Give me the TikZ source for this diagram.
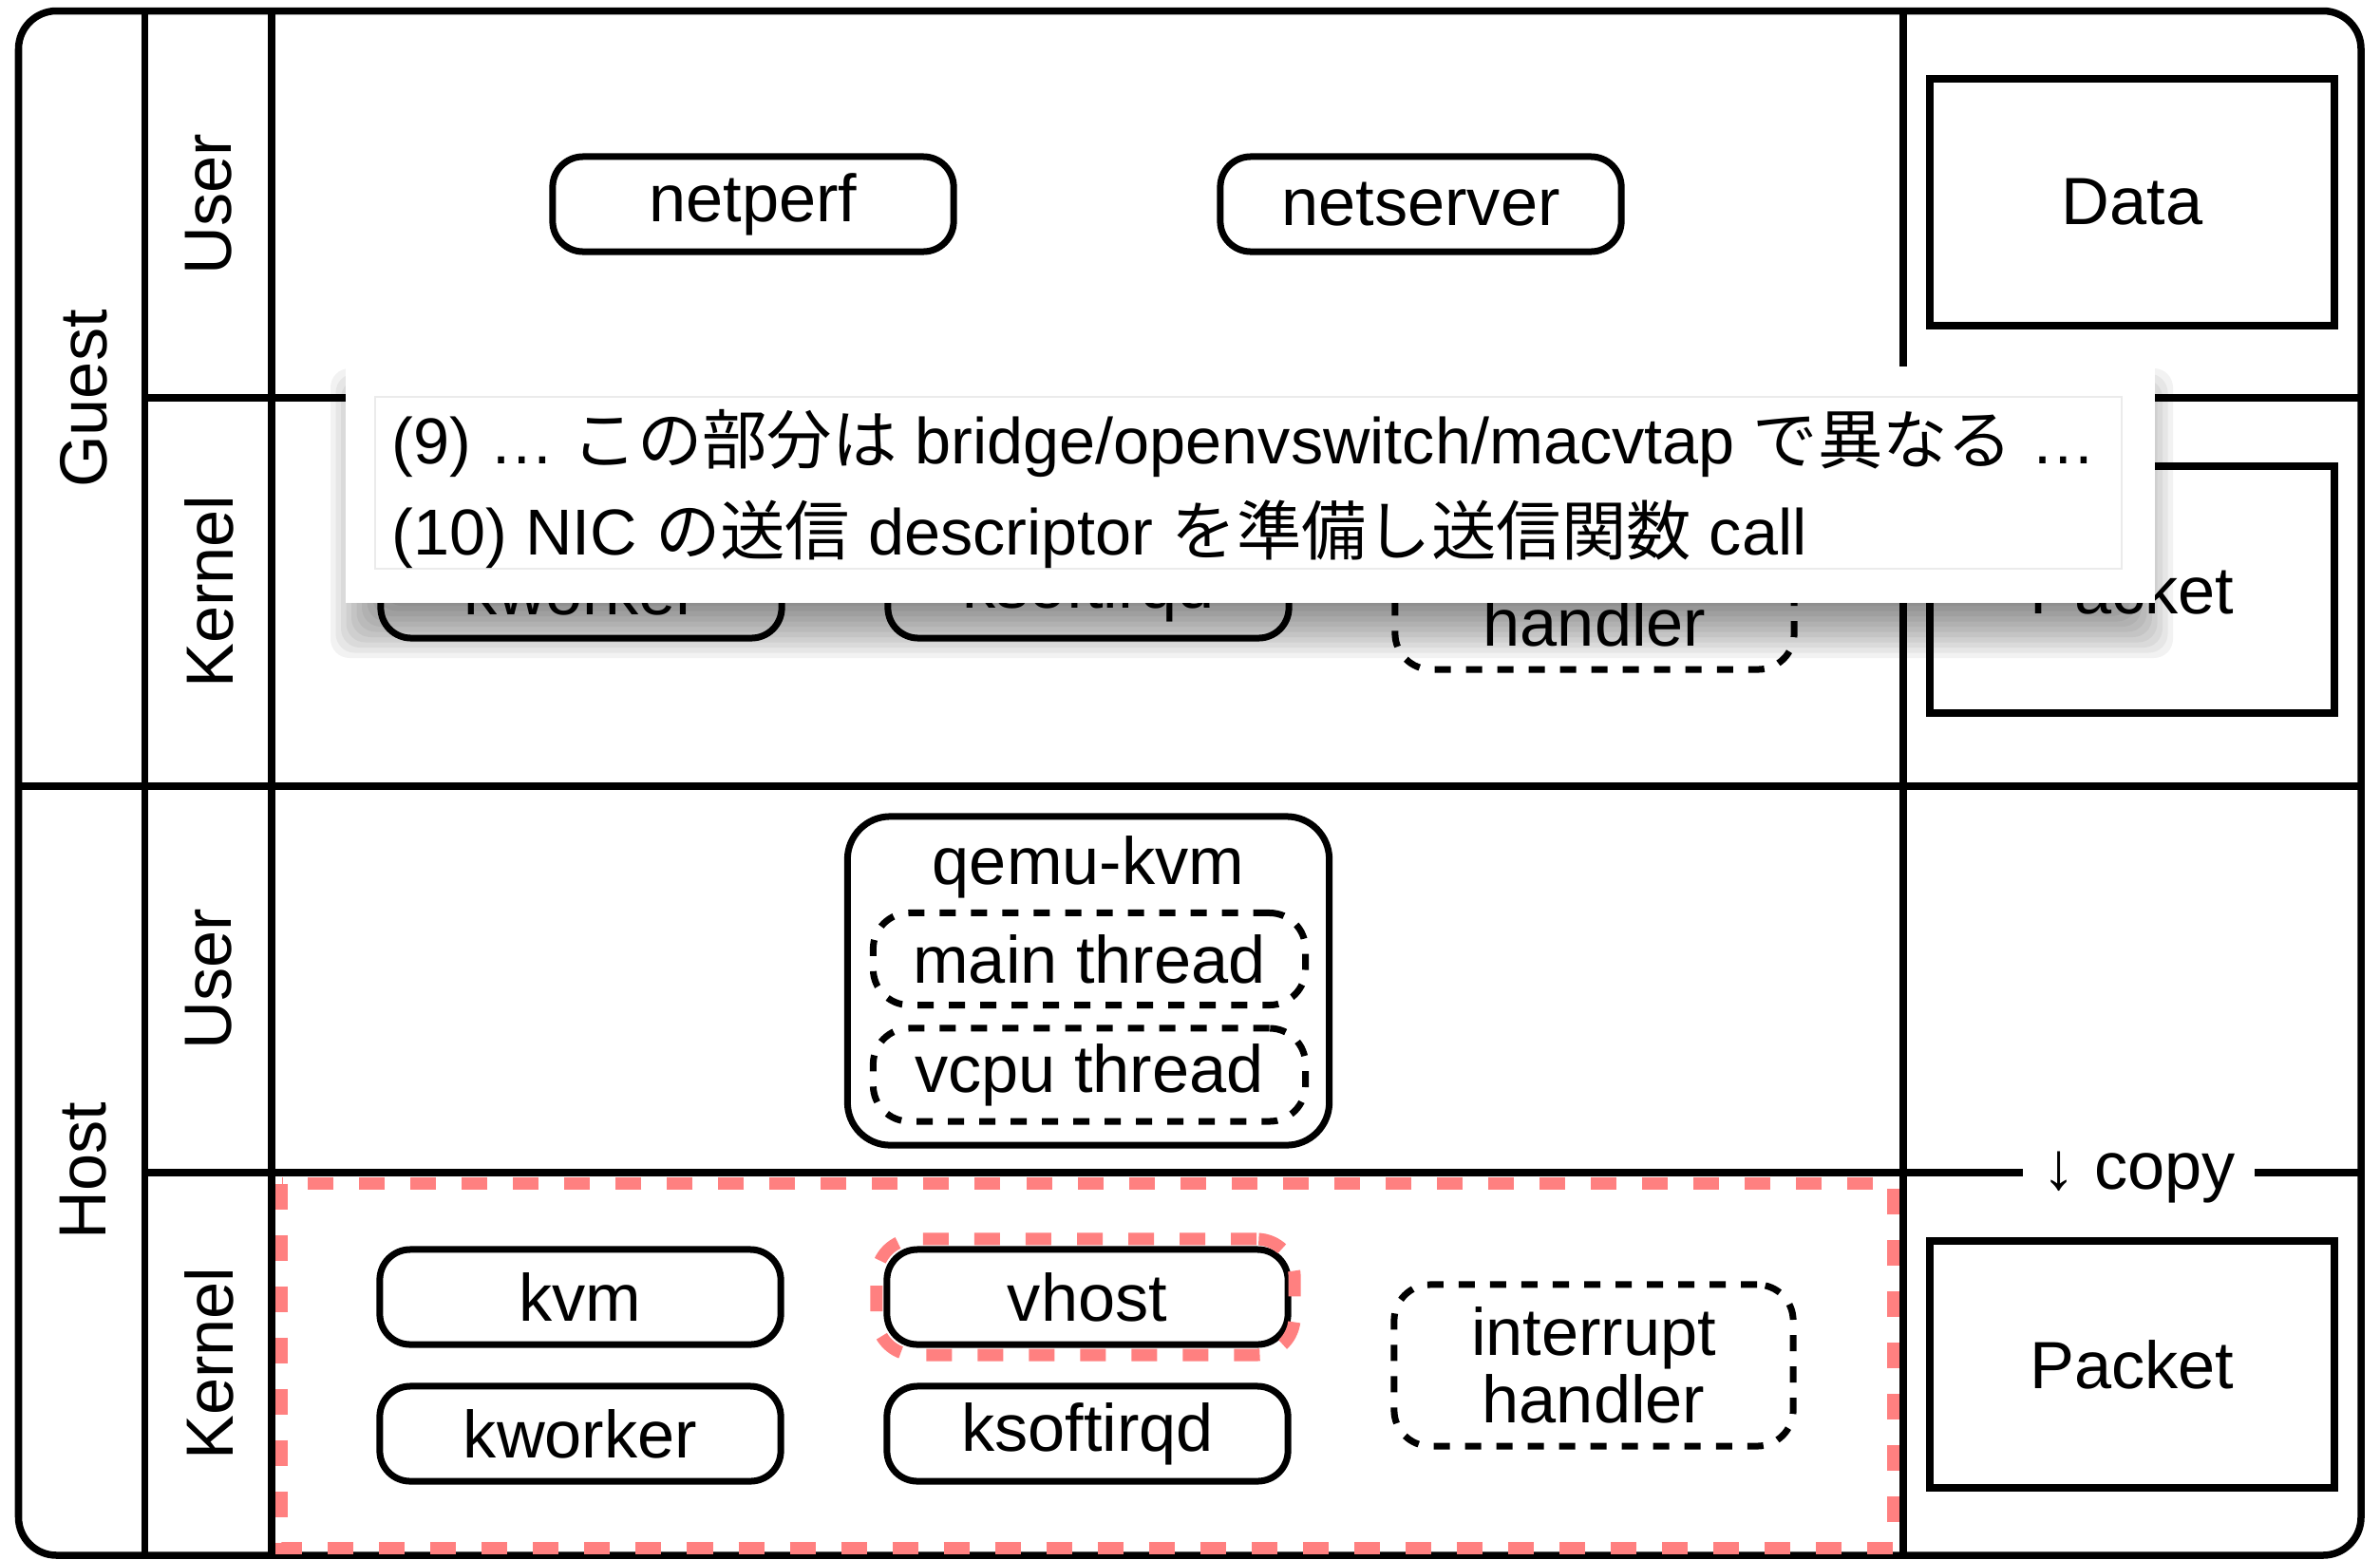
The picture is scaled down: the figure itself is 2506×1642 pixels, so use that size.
\documentclass[tikz,border=0pt]{standalone}
\usepackage{fontspec}
\setmainfont{Liberation Sans}
\newfontfamily\jp{Noto Sans CJK JP}
\definecolor{hl}{HTML}{FF8080}
\begin{document}
\begin{tikzpicture}[x=0.01cm,y=-0.01cm,
  every node/.style={inner sep=0pt},
  lw/.style={line width=0.075cm},
  big/.style={font=\fontsize{20pt}{20pt}\selectfont},
  proc/.style={big, draw, line width=0.07cm, rounded corners=0.32cm, minimum width=4.22cm, minimum height=1.0cm},
  dproc/.style={big, draw, line width=0.07cm, dash pattern=on 0.17cm off 0.16cm, rounded corners=0.38cm, align=center},
  databox/.style={big, draw, line width=0.075cm, minimum width=4.26cm, minimum height=2.6cm},
  side/.style={big, rotate=90},
  hlbox/.style={draw=hl, line width=0.13cm, dash pattern=on 0.27cm off 0.27cm},
  pop/.style={font=\fontsize{19.45pt}{19.45pt}\selectfont, anchor=west},
]
\useasboundingbox (0,0) rectangle (2506,1642);

% ---- partition lines
\draw[lw] (152.5,11.5) -- (152.5,1638);
\draw[lw] (286,11.5) -- (286,1638);
\draw[lw] (2004,11.5) -- (2004,1638);
\draw[lw] (152.5,419) -- (2486,419);
\draw[lw] (19.5,828) -- (2486,828);
\draw[lw] (152.5,1235) -- (2486,1235);
\draw[lw, rounded corners=0.4cm] (19.5,11.5) rectangle (2486,1638);

% ---- side labels
\node[side] (guest) at (88,420) {Guest};
\node[side] (host) at (88,1233) {Host};
\node[side] (guser) at (220,215) {User};
\node[side] (gkern) at (220,623) {Kernel};
\node[side] (huser) at (220,1031) {User};
\node[side] (hkern) at (220,1436) {Kernel};

% ---- guest user
\node[proc] (netperf) at (793,215) {netperf};
\node[proc] (netserver) at (1496,215) {netserver};

% ---- guest kernel
\node[proc] (gkworker) at (612,622) {kworker};
\node[proc] (gksoft) at (1146,622) {ksoftirqd};
\node[dproc, minimum width=4.2cm, minimum height=1.7cm] (girq) at (1679,620) {interrupt\\handler};

% ---- host user
\node[draw, line width=0.07cm, rounded corners=0.45cm, minimum width=5.07cm, minimum height=3.46cm] (qemu) at (1146,1033) {};
\node[big] (qemulabel) at (1146,913) {qemu-kvm};
\node[dproc, minimum width=4.55cm, minimum height=0.97cm] (mainth) at (1147,1010) {main thread};
\node[dproc, minimum width=4.55cm, minimum height=0.98cm] (vcputh) at (1147,1132) {vcpu thread};

% ---- host kernel
\draw[hlbox] (296.5,1246.5) rectangle (1993.5,1630);
\node[proc] (kvm) at (611,1366) {kvm};
\node[proc] (vhost) at (1145,1366) {vhost};
\node[hlbox, rounded corners=0.4cm, minimum width=4.4cm, minimum height=1.22cm] (vhosthl) at (1143,1366) {};
\node[proc] (hkworker) at (611,1510) {kworker};
\node[proc] (hksoft) at (1145,1510) {ksoftirqd};
\node[dproc, minimum width=4.2cm, minimum height=1.7cm] (hirq) at (1678,1438) {interrupt\\handler};

% ---- right column
\node[databox] (data) at (2245,213) {Data};
\node[databox] (gpacket) at (2245,621) {Packet};
\node[databox] (hpacket) at (2245,1437) {Packet};
\node[big, fill=white, inner xsep=0.2cm, inner ysep=0.05cm] (copy) at (2252,1240) {↓ copy};

% ---- popup with soft shadow
\foreach \k in {0,...,11}{
  \pgfmathsetmacro{\shd}{30-5.5*\k}
  \fill[black, opacity=0.05, rounded corners=0.2cm] (378-\shd,418-\shd) rectangle (2258+\shd,663+\shd);
}
\node[fill=white, minimum width=19.03cm, minimum height=2.49cm] (popup) at (1316.5,510.5) {};
\node[draw=black!8, line width=0.02cm, minimum width=18.37cm, minimum height=1.81cm] (popinner) at (1314.5,508.5) {};
\node[pop] (line9) at (412,467) {(9) … {\jp この部分は} bridge/openvswitch/macvtap {\jp で異なる} …};
\node[pop] (line10) at (412,563) {(10) NIC {\jp の送信} descriptor {\jp を準備し送信関数} call};
\end{tikzpicture}
\end{document}
